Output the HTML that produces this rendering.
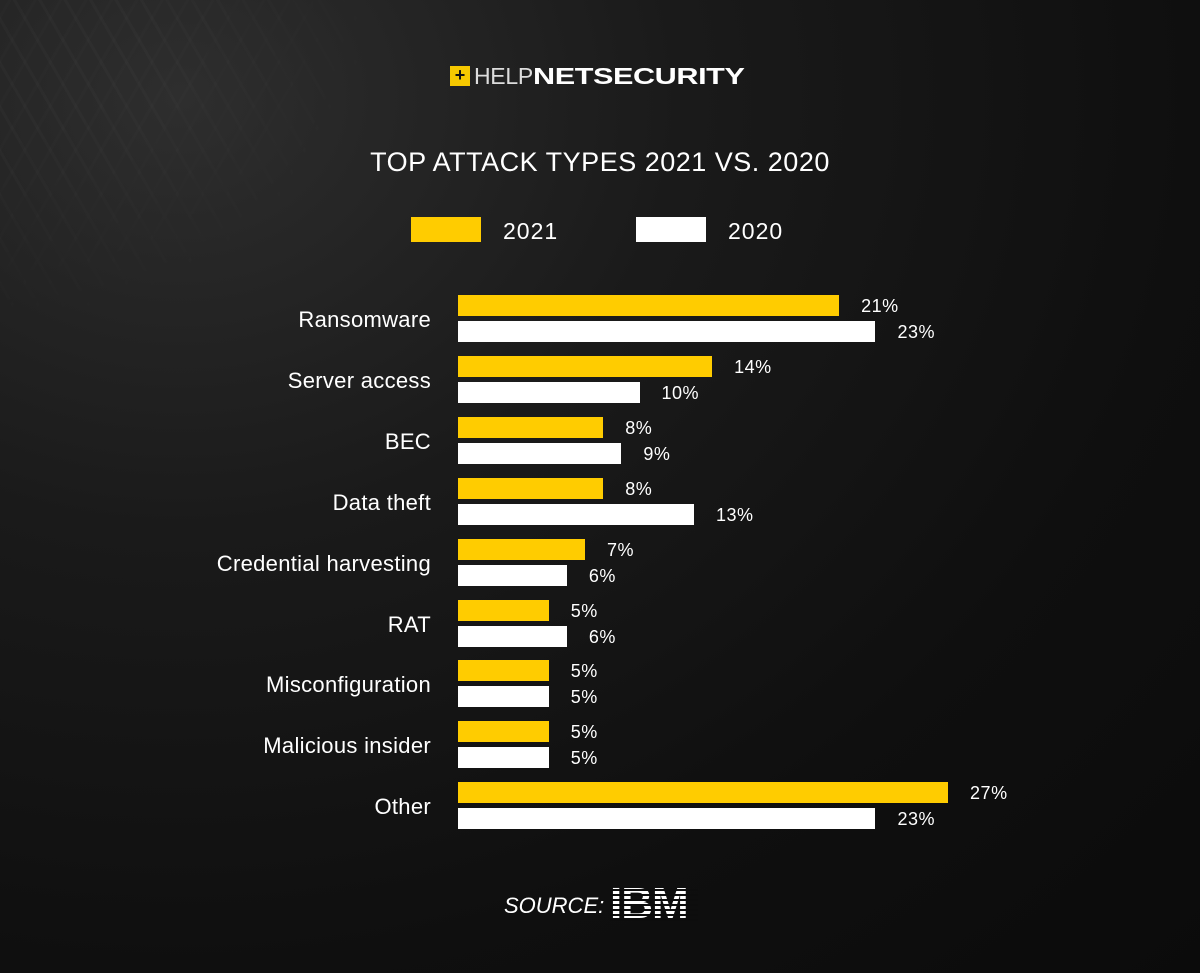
<!DOCTYPE html>
<html><head><meta charset="utf-8"><style>
html,body{margin:0;padding:0}
body{width:1200px;height:973px;overflow:hidden;font-family:"Liberation Sans","DejaVu Sans",sans-serif;color:#fff;position:relative;
background:radial-gradient(ellipse at 15% 10%,#2e2e2e 0%,#1a1a1a 35%,#0f0f0f 70%,#0b0b0b 100%);}
.abs{position:absolute}
</style></head><body>
<div class="abs" style="left:0;top:0;width:380px;height:330px;opacity:.15;background:repeating-linear-gradient(60deg,rgba(255,255,255,.12) 0 3px,transparent 3px 22px),repeating-linear-gradient(-60deg,rgba(255,255,255,.08) 0 3px,transparent 3px 22px);-webkit-mask-image:radial-gradient(ellipse at 0 0,#000 30%,transparent 75%);mask-image:radial-gradient(ellipse at 0 0,#000 30%,transparent 75%)"></div>

<div class="abs" style="left:450px;top:63px;height:26px;display:flex;align-items:center;white-space:nowrap">
 <div style="width:20px;height:20px;background:#f6c800;color:#111;font-size:18px;line-height:19px;text-align:center;font-weight:bold;margin-right:4px">+</div>
 <span style="font-size:23px;letter-spacing:-0.3px"><span style="font-weight:300;color:#ddd">HELP</span><b style="display:inline-block;transform:scaleX(1.33);transform-origin:left">NETSECURITY</b></span>
</div>

<div class="abs" style="left:0;width:1200px;top:147px;text-align:center;font-size:27px;letter-spacing:0.5px">TOP ATTACK TYPES 2021 VS. 2020</div>

<div class="abs" style="left:411px;top:217px;width:70px;height:25px;background:#ffcc00"></div>
<div class="abs" style="left:503px;top:218px;font-size:23px;letter-spacing:1px">2021</div>
<div class="abs" style="left:636px;top:217px;width:70px;height:25px;background:#fff"></div>
<div class="abs" style="left:728px;top:218px;font-size:23px;letter-spacing:1px">2020</div>

<div id="chart" class="abs" style="left:0;top:0;width:1200px;height:973px"></div>

<div class="abs" style="left:504px;top:893px;font-size:22px;font-style:italic">SOURCE:</div>
<div class="abs" style="left:610px;top:886px;width:88px;height:36px;overflow:hidden">
 <div style="font-family:'Liberation Sans',sans-serif;font-weight:bold;font-size:44px;line-height:36px;letter-spacing:-1px;transform:scaleX(1.0);transform-origin:left">IBM</div>
 <div style="position:absolute;left:0;top:0;width:100%;height:100%;background:repeating-linear-gradient(180deg,transparent 0 3px,#0d0d0d 3px 5px)"></div>
</div>

<script>
const categories=["Ransomware","Server access","BEC","Data theft","Credential harvesting","RAT","Misconfiguration","Malicious insider","Other"];
const values2021=[21,14,8,8,7,5,5,5,27];
const values2020=[23,10,9,13,6,6,5,5,23];
const x0=458, pxPer=18.15, y0=295, pitch=60.9, bh=21;
function xs(v){return v*pxPer;}
function yr(i){return y0+i*pitch;}
const chart=document.getElementById('chart');
function mk(styles){const d=document.createElement('div');d.className='abs';Object.assign(d.style,styles);chart.appendChild(d);return d;}
categories.forEach((c,i)=>{
 const y=yr(i);
 const lab=mk({left:'0px',width:'431px',textAlign:'right',top:(y+12)+'px',fontSize:'22px',letterSpacing:'0.3px'});
 lab.textContent=c;
 
 
 [[values2021[i],'#ffcc00',0],[values2020[i],'#ffffff',26]].forEach(([v,col,off],k)=>{
  const b=mk({left:x0+'px',top:(y+off)+'px',width:xs(v)+'px',height:bh+'px',background:col});
  
  
  const t=mk({left:(x0+xs(v)+22)+'px',top:(y+off+1)+'px',fontSize:'18px',letterSpacing:'0.5px'});
  t.textContent=v+'%';
  
  
 });
});
</script>
</body></html>
